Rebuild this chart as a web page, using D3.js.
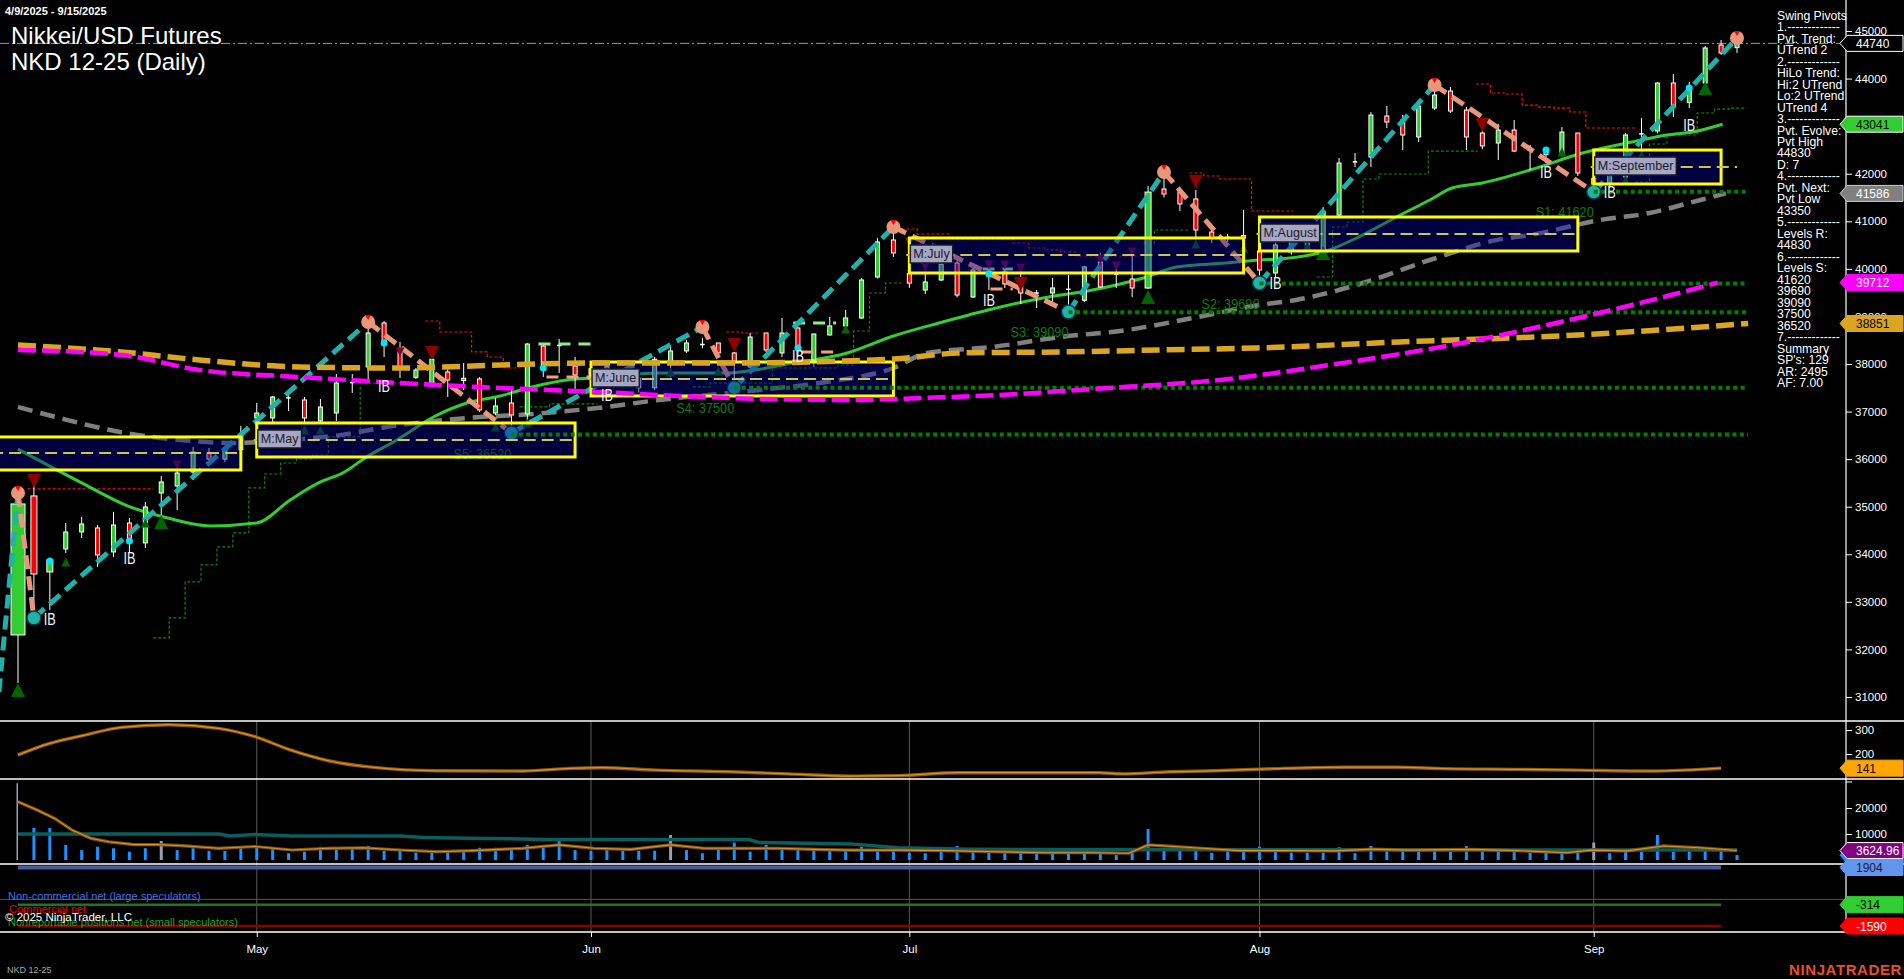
<!DOCTYPE html>
<html><head><meta charset="utf-8">
<script src="https://cdn.jsdelivr.net/npm/d3@7"></script>
<style>
html,body{margin:0;padding:0;background:#000;overflow:hidden}
svg{display:block}
text{font-family:Arial,"Liberation Sans",sans-serif}
</style></head><body>
<svg id="c" width="1904" height="979"></svg>
<script>
// ---------------- DATA ----------------
const dates = [
"2025-04-09","2025-04-10","2025-04-11","2025-04-14","2025-04-15","2025-04-16","2025-04-17","2025-04-21","2025-04-22","2025-04-23","2025-04-24","2025-04-25","2025-04-28","2025-04-29","2025-04-30",
"2025-05-01","2025-05-02","2025-05-05","2025-05-06","2025-05-07","2025-05-08","2025-05-09","2025-05-12","2025-05-13","2025-05-14","2025-05-15","2025-05-16","2025-05-19","2025-05-20","2025-05-21","2025-05-22","2025-05-23","2025-05-27","2025-05-28","2025-05-29","2025-05-30",
"2025-06-02","2025-06-03","2025-06-04","2025-06-05","2025-06-06","2025-06-09","2025-06-10","2025-06-11","2025-06-12","2025-06-13","2025-06-16","2025-06-17","2025-06-18","2025-06-20","2025-06-23","2025-06-24","2025-06-25","2025-06-26","2025-06-27","2025-06-30",
"2025-07-01","2025-07-02","2025-07-03","2025-07-07","2025-07-08","2025-07-09","2025-07-10","2025-07-11","2025-07-14","2025-07-15","2025-07-16","2025-07-17","2025-07-18","2025-07-21","2025-07-22","2025-07-23","2025-07-24","2025-07-25","2025-07-28","2025-07-29","2025-07-30","2025-07-31",
"2025-08-01","2025-08-04","2025-08-05","2025-08-06","2025-08-07","2025-08-08","2025-08-11","2025-08-12","2025-08-13","2025-08-14","2025-08-15","2025-08-18","2025-08-19","2025-08-20","2025-08-21","2025-08-22","2025-08-25","2025-08-26","2025-08-27","2025-08-28","2025-08-29",
"2025-09-02","2025-09-03","2025-09-04","2025-09-05","2025-09-08","2025-09-09","2025-09-10","2025-09-11","2025-09-12","2025-09-15"];

const open  = [32304,35226,33628,34112,34469,34553,34049,34658,34238,35288,35436,35730,36130,36000,36200,36865,36865,37300,37244,36802,36970,37600,37937,38862,38252,37720,37580,37832,37650,37685,36970,37180,36950,38379,38400,37958,37700,37800,37850,37700,37500,38042,38274,38420,38442,38232,37937,38652,38232,38757,38084,38610,38800,38967,39829,40607,39900,39555,39766,40123,39408,39950,39934,39724,39500,39492,39560,39340,40144,39900,39787,39597,41679,41615,41469,40775,40670,40700,40376,39913,40400,40500,40400,41132,42240,42352,43213,43129,42772,43381,43739,43339,42856,42646,42919,42480,42450,42435,42856,41900,41800,41930,42830,42898,43907,43500,43907,44706,44650];
const high  = [35290,35457,33900,34658,34784,34616,34889,34763,35100,35646,35793,36255,36234,36250,36700,37180,37330,37454,37307,37265,37790,37790,38883,38900,38463,37916,38110,37916,38020,37727,37285,37454,38440,38400,38526,38147,38000,38050,37900,37850,38150,38358,38505,38550,38442,38253,38652,38652,38967,38778,38631,38988,39135,39808,40649,40850,40100,39935,40160,40165,40081,40018,40123,40081,39555,39808,39871,40060,40334,40123,40334,41742,42036,41678,41658,40817,40733,41237,40500,40560,40700,40800,41300,42330,42435,43297,43423,43234,43444,43865,43823,43402,42919,43045,43129,42604,42540,42982,42856,42050,42200,42856,43171,43928,44096,43928,44685,44811,44830];
const low   = [31295,32900,32830,34028,34343,33733,33943,34028,34133,34826,34931,35562,35877,35940,36100,36781,36781,37012,36781,36760,36802,37391,37664,38147,37706,37685,37517,37307,37454,36991,36928,36550,36780,37727,37811,37454,37450,37600,37500,37400,37450,37727,38232,38330,38211,37540,37916,38253,38147,38147,37937,38600,38757,38950,39800,40250,39600,39470,39740,39400,39387,39555,39597,39261,39177,39282,39090,39300,39597,39597,39408,39580,41500,41216,40670,40544,40565,40565,39690,39829,40300,40400,40350,41090,42141,42141,42961,42498,42667,43339,43276,42498,42519,42288,42456,42078,42225,42435,41952,41620,41700,41880,42435,42850,43192,43381,43880,44500,44540];
const close = [35058,33586,33880,34469,34637,33985,34616,34301,34994,35520,35709,36150,36000,36200,36500,36970,37307,37280,36865,37096,37601,37620,38652,38400,37937,37874,38100,37664,37700,37034,37118,36928,38420,37980,38380,37769,37900,37950,37600,37500,38100,38274,38442,38400,38232,38042,38568,38295,38652,38358,38631,38800,38967,39766,40565,40334,39700,39724,40100,39450,39976,39900,39682,39492,39480,39598,39580,40040,39619,39880,39597,41615,41574,41364,40817,40649,40650,40650,39976,40502,40600,40700,41200,42225,42260,43234,43087,42814,43423,43655,43318,42772,42583,42919,42477,42500,42400,42877,42015,41750,42100,42814,42850,43907,43402,43750,44643,44538,44740];

const volume = [29500,12400,12300,5800,3800,5100,4500,3200,4500,7300,3800,4500,3500,3500,4500,5100,4500,2600,3200,5100,4700,4500,5400,3500,3500,2800,2800,3600,3600,4700,4700,4700,5800,5800,7400,3800,3500,3800,3600,3600,3600,9600,3800,2600,4500,6700,3200,5800,4500,4500,4500,3800,3500,5100,3500,4500,2800,2600,3800,5400,3500,2800,2600,3500,3800,3800,4500,3500,2600,1900,2800,11900,4500,4500,3800,2800,3200,3200,5100,3800,2800,2800,2800,4900,2600,5400,3800,3600,3800,3500,3200,5400,3800,3600,3500,2800,2800,2600,3200,6700,2600,3200,3200,9600,3200,4500,4500,4500,1900];
const grayVolumeBars = [0,9,41,99];

// moving averages: [bar index, value]
const maGreen = [[0,36210],[4,35500],[7,35000],[9.4,34763],[12.1,34595],[15,34658],[17.1,35142],[19,35520],[20.4,35709],[21.9,36045],[23.8,36403],[26.1,36886],[28.2,37180],[30.3,37328],[32.3,37517],[34.5,37664],[36.1,37706],[40.3,37811],[44.5,37811],[48.7,38021],[52.1,38232],[55,38589],[58.1,38883],[61.2,39156],[64.4,39388],[67.5,39555],[70.7,39808],[72.8,40039],[75.9,40123],[78,40186],[79.3,40207],[82.4,40397],[84.1,40649],[86.6,41090],[88.7,41448],[90.1,41700],[92,41805],[95,42078],[98.3,42435],[101.4,42667],[103.6,42814],[105.2,42877],[107.1,43041]];
const maGray = [[0,37097],[2.6,36865],[6.4,36571],[10.2,36403],[13.4,36340],[17.1,36403],[19.8,36487],[24,36718],[28.2,36865],[32.3,36949],[36.4,37075],[40.3,37244],[46.6,37454],[50.8,37622],[55,37916],[57.1,38232],[61.2,38358],[65.5,38568],[69.7,38715],[73.8,38967],[78,39240],[80.3,39346],[84.5,39703],[88.7,40186],[92.9,40607],[95,40712],[99.4,41027],[102.5,41174],[105.7,41448],[107.3,41586]];
const maOrange = [[0,38400],[6.5,38253],[11.4,38085],[17.7,37937],[24,37916],[30.3,37979],[36.4,38021],[44.5,38021],[55,38105],[59.2,38232],[65.5,38253],[71.7,38295],[77.8,38337],[86.8,38463],[98,38610],[108.7,38851]];
const maMagenta = [[0,38295],[6.5,38190],[11.4,37874],[17.7,37727],[24,37601],[30.3,37496],[36.4,37412],[40.3,37349],[46.6,37265],[52.9,37244],[56.7,37286],[61.7,37349],[67.5,37475],[75.5,37664],[82.8,38000],[90.4,38421],[98,38967],[104.1,39471],[106.8,39712]];

// swing pivots
const pivotIdx = [-1.2,0,1,22,31,43,45,55,66,72,78,89,99,108];
const pivotVal = [31100,35290,32661,38883,36550,38778,37500,40880,39093,42036,39703,43865,41616,44853];
const pivotType = ["L","H","L","H","L","H","L","H","L","H","L","H","L","H"];

// support levels
const sNames = ["S1","S2","S3","S4","S5"];
const sLevels = [41620,39690,39090,37500,36520];
const sStart = [99,78,66,45,31];

// trailing stop steps
const redStops = [
 [[0.6,35373],[8.5,35373]],
 [[25.6,38904],[26.5,38673],[28.5,38253],[29.5,38147],[30.5,37916],[31.5,37916]],
 [[44.5,38673],[45.5,38652],[46.5,38652]],
 [[55.5,40838],[56.5,40733],[58.5,40628],[62.5,40544],[63.5,40439],[64.5,40397],[65.5,40355],[66.5,40270],[70.5,40270]],
 [[73.6,42015],[74.5,41952],[75.5,41889],[77.5,41216],[80.1,41216]],
 [[91.6,43886],[92.5,43697],[93.5,43676],[94.5,43444],[95.5,43402],[96.5,43381],[97.5,43297],[98.5,42961],[101.7,42961]]
];
const greenStops = [
 [[8.5,32241],[9.5,32661],[10.5,33418],[11.5,33775],[12.5,34154],[13.5,34448],[14.5,35394],[15.5,35688],[16.5,35919],[17.5,36003],[18.5,36087],[19.5,36466],[21.5,37601],[24.8,37601]],
 [[31.5,37097],[33.4,37160],[36.4,37160]],
 [[42.4,37517],[43.5,37601],[47.4,37916],[51.5,37979],[52.5,38694],[53.5,39493],[54.5,39703],[55.5,39703]],
 [[70.7,40544],[71.4,40817],[73.5,40817]],
 [[81.6,39829],[82.6,40880],[83.5,40985],[84.5,41889],[85.5,41994],[88.6,42477],[91.7,42477]],
 [[101.6,41826],[102.5,42625],[103.6,42814],[105.5,43276],[106.6,43360],[107.5,43381],[108.6,43381]]
];

// monthly value boxes
const boxNames = ["", "M:May","M:June","M:July","M:August","M:September"];
const boxStart = [-1.5,15,36,56,78,99];
const boxEnd   = [14,35,55,77,98,107];
const boxHi  = [36466,36760,38042,40649,41090,42498];
const boxLo  = [35772,36045,37328,39913,40376,41784];
const boxMid = [36130,36403,37685,40292,40733,42141];

// signal markers
const upBig = [[0,31148],[9,34679],[71,39408],[82,40334],[106,43802]];
const upSmall = [[3,33838],[8,34658],[18,36613],[19,36613],[30,36676],[32,36760],[41,37832],[44,37853],[52,38736],[74,40523],[77,40439],[81,40481],[97,42456],[101,41868],[102,42393]];
const downBig = [[1,35541],[26,38232],[45,38400],[63,39682],[74,41826],[92,43024]];
const downSmall = [[10,35877],[24,38253],[56,40565],[57,40039],[61,40081],[62,40081],[63,40018],[68,40207],[69,40060],[70,40355]];
const ibLabels = [[2,32640],[7,33922],[23,37538],[37,37349],[49,38168],[61,39346],[79,39703],[96,42036],[100,41616],[105,43024]];
const ibDots = [[2,33859],[7,34280],[23,38442],[33,37916],[37,37811],[49,38337],[61,39892],[96,42498],[105,43802]];
const ibRanges = [[32.7,36.4,38421,37727],[48.7,51.4,38862,38253],[60.6,62.5,39997,39577]];

// lower panels
const osc = [[0,196],[1.9,242],[4.2,279],[6.5,311],[9.5,322],[12.6,307],[14.9,272],[17.1,217],[19.5,172],[22.5,143],[26.3,130],[31.7,129],[34.7,140],[36.6,143],[40.1,133],[44.7,126],[48.4,117],[52.3,108],[55.3,110],[59.1,122],[63.7,122],[67.9,122],[69.4,117],[72.1,125],[75.1,130],[79,139],[83.5,145],[86.6,145],[89.6,139],[94.2,136],[98,133],[102.6,129],[105.7,136],[107,141]];
const volMA = [[0,22400],[1.2,19200],[2.3,16000],[3.4,11500],[4.6,8300],[5.7,7000],[7.3,5900],[8.8,5900],[10.3,5500],[12.6,4500],[14.9,5200],[17.2,3850],[19.5,4500],[21.7,4700],[24,3850],[26.3,3200],[28.6,3600],[31.7,4500],[34,5800],[36.2,4500],[38.5,4100],[41,5800],[43.1,4500],[45.4,4500],[47.7,4500],[50,4100],[52.3,3800],[55.3,3800],[58.4,3600],[61.4,3200],[64.5,2800],[67.5,2800],[69.8,2600],[71,5800],[72.1,5400],[74.4,4500],[76.7,3600],[79.7,3600],[82.8,3500],[85.1,4200],[87.3,3800],[91.2,4100],[94.2,3600],[97.3,2800],[98.8,3800],[101.1,3500],[103.4,5400],[105.7,4700],[108,3625]];
const volAvg = [[0,10000],[12.6,10000],[13.3,9200],[14.9,9800],[17.2,9200],[24,9200],[25.5,8700],[29.3,8300],[33,7900],[45.9,7900],[46.6,6700],[52.3,6200],[55.3,4700],[59.9,4100],[98,3800],[108,3800]];
const cotNames = ["Non-commercial net (large speculators)","Commercial net","Nonreportable positions net (small speculators)"];
const cotValues = [1904,-1590,-314];

const priceTicks = d3.range(31000,45001,1000);
const monthTicks = [["2025-05-01","May"],["2025-06-02","Jun"],["2025-07-01","Jul"],["2025-08-01","Aug"],["2025-09-02","Sep"]];
const pivotText = ["Swing Pivots","1.-------------","Pvt. Trend:","UTrend 2","2.-------------","HiLo Trend:","Hi:2 UTrend","Lo:2 UTrend","UTrend 4","3.-------------","Pvt. Evolve:","Pvt High","44830","D: 7","4.-------------","Pvt. Next:","Pvt Low","43350","5.-------------","Levels R:","44830","6.-------------","Levels S:","41620","39690","39090","37500","36520","7.-------------","Summary","SP's: 129","AR: 2495","AF: 7.00"];

// ---------------- DRAW ----------------
const svg = d3.select("#c");
const AX = 1846;
svg.append("rect").attr("width",1904).attr("height",979).attr("fill","#000");

const x = d3.scalePoint().domain(dates).range([18,1737]);
const x0 = x(dates[0]), step = x.step();
const xi = i => x0 + i*step;
const yP = d3.scaleLinear().domain([30495,45652]).range([721,0]);
const yO = d3.scaleLinear().domain([100,300]).range([778,730]);
const yV = d3.scaleLinear().domain([0,20000]).range([860,808]);
const yC = d3.scaleLinear().domain([-1590,1904]).range([926,867.5]);

const defs = svg.append("defs");
defs.append("clipPath").attr("id","mainclip").append("rect").attr("x",0).attr("y",0).attr("width",AX).attr("height",721);
defs.append("clipPath").attr("id","lowclip").append("rect").attr("x",0).attr("y",721).attr("width",AX).attr("height",211);

const lowG = svg.append("g").attr("clip-path","url(#lowclip)");
monthTicks.forEach(([d])=>{
  lowG.append("line").attr("x1",x(d)).attr("x2",x(d)).attr("y1",721).attr("y2",932).attr("stroke","#5a5a5a").attr("stroke-width",1);
});

const g = svg.append("g").attr("clip-path","url(#mainclip)");

g.append("line").attr("x1",0).attr("x2",AX).attr("y1",yP(44740)).attr("y2",yP(44740))
 .attr("stroke","#9a9a9a").attr("stroke-width",1).attr("stroke-dasharray","9,3,2,3");

const lineIdx = d3.line().x(d=>xi(d[0])).y(d=>yP(d[1]));
const lineSmooth = d3.line().x(d=>xi(d[0])).y(d=>yP(d[1])).curve(d3.curveMonotoneX);
const stepLine = d3.line().x(d=>xi(d[0])).y(d=>yP(d[1])).curve(d3.curveStepAfter);

greenStops.forEach(s=>g.append("path").attr("d",stepLine(s)).attr("fill","none").attr("stroke","#0a8a0a").attr("stroke-width",1.2).attr("stroke-dasharray","3,2"));
redStops.forEach(s=>g.append("path").attr("d",stepLine(s)).attr("fill","none").attr("stroke","#ee1111").attr("stroke-width",1.2).attr("stroke-dasharray","3,2"));

g.append("path").attr("d",lineSmooth(maGray)).attr("fill","none").attr("stroke","#808080").attr("stroke-width",4.5).attr("stroke-dasharray","15,8");
g.append("path").attr("d",lineSmooth(maGreen)).attr("fill","none").attr("stroke","#32cd32").attr("stroke-width",3);

const wideBars = {0:15,1:7,2:7,71:7};
dates.forEach((d,i)=>{
  const cx = x(d);
  g.append("line").attr("x1",cx).attr("x2",cx).attr("y1",yP(high[i])).attr("y2",yP(low[i])).attr("stroke","#fff").attr("stroke-width",1);
  const w = wideBars[i] || 5;
  const yt = yP(Math.max(open[i],close[i])), yb = yP(Math.min(open[i],close[i]));
  const h = Math.max(1,yb-yt);
  const col = close[i]>open[i]+30 ? "#32cd32" : (close[i]<open[i]-30 ? "#ff0000" : "#ffffff");
  g.append("rect").attr("x",cx-w/2+0.5).attr("y",yt).attr("width",w-1).attr("height",h)
    .attr("fill",col).attr("stroke","#fff").attr("stroke-width",h>2?1:0.5);
});

ibRanges.forEach(r=>{
  g.append("line").attr("x1",xi(r[0])).attr("x2",xi(r[1])).attr("y1",yP(r[2])).attr("y2",yP(r[2])).attr("stroke","#90ee90").attr("stroke-width",3).attr("stroke-dasharray","12,8");
  g.append("line").attr("x1",xi(r[0])+8).attr("x2",xi(r[1])).attr("y1",yP(r[3])).attr("y2",yP(r[3])).attr("stroke","#f4a080").attr("stroke-width",3).attr("stroke-dasharray","12,8");
});

for(let k=0;k<pivotIdx.length-1;k++){
  const a=[pivotIdx[k],pivotVal[k]], b=[pivotIdx[k+1],pivotVal[k+1]];
  const up = pivotType[k]==="L";
  g.append("path").attr("d",lineIdx([a,b])).attr("fill","none")
   .attr("stroke", up ? "#20b2aa" : "#e9967a").attr("stroke-width",5).attr("stroke-dasharray","14,7");
}
sLevels.forEach((v,k)=>{
  g.append("text").attr("x",xi(sStart[k])).attr("y",yP(v)+25).attr("text-anchor","end")
   .attr("fill","#0d7a0d").attr("font-size",15).attr("textLength",58).attr("lengthAdjust","spacingAndGlyphs")
   .text(`${sNames[k]}: ${v}`);
});
const tri = (i,v,s,up,col)=>{
  const cx=xi(i), cy=yP(v);
  const p = up ? [[cx,cy-s/2],[cx+s/2,cy+s/2],[cx-s/2,cy+s/2]] : [[cx-s/2,cy-s/2],[cx+s/2,cy-s/2],[cx,cy+s/2]];
  g.append("path").attr("d","M"+p.join("L")+"Z").attr("fill",col);
};
upBig.forEach(d=>tri(d[0],d[1],14,true,"#006400"));
upSmall.forEach(d=>tri(d[0],d[1],9,true,"#006400"));
downBig.forEach(d=>tri(d[0],d[1],14,false,"#8b0000"));
downSmall.forEach(d=>tri(d[0],d[1],9,false,"#7a0a2a"));

pivotIdx.forEach((i,k)=>{
  if(i<0) return;
  const cx=xi(i), cy=yP(pivotVal[k]);
  if(pivotType[k]==="H"){
    g.append("circle").attr("cx",cx).attr("cy",cy).attr("r",7).attr("fill","#e9967a");
    g.append("path").attr("d",`M${cx-3},${cy-7}L${cx+3},${cy-7}L${cx},${cy-2}Z`).attr("fill","#ff0000");
  } else {
    g.append("circle").attr("cx",cx).attr("cy",cy).attr("r",7).attr("fill","#20b2aa").attr("stroke","#0b3b3b").attr("stroke-width",1.5);
  }
});

boxStart.forEach((s,k)=>{
  const xa=xi(s), xb=xi(boxEnd[k]);
  g.append("rect").attr("x",xa).attr("y",yP(boxHi[k])).attr("width",xb-xa).attr("height",yP(boxLo[k])-yP(boxHi[k]))
   .attr("fill","rgba(0,0,160,0.4)").attr("stroke","#ffff00").attr("stroke-width",3);
  const xe = k===boxStart.length-1 ? xi(108) : xb;
  g.append("line").attr("x1",xa-3).attr("x2",xe).attr("y1",yP(boxMid[k])).attr("y2",yP(boxMid[k]))
   .attr("stroke","#c8c84a").attr("stroke-width",2).attr("stroke-dasharray","12,6");
});

sLevels.forEach((v,k)=>{
  g.append("line").attr("x1",xi(sStart[k])).attr("x2",xi(108.7)).attr("y1",yP(v)).attr("y2",yP(v))
   .attr("stroke","#008000").attr("stroke-width",4).attr("stroke-dasharray","4,3.4");
});

g.append("path").attr("d",lineSmooth(maOrange)).attr("fill","none").attr("stroke","#daa520").attr("stroke-width",5.5).attr("stroke-dasharray","18,7");
g.append("path").attr("d",lineSmooth(maMagenta)).attr("fill","none").attr("stroke","#ff00ff").attr("stroke-width",4.5).attr("stroke-dasharray","18,6");

ibDots.forEach(d=>g.append("circle").attr("cx",xi(d[0])).attr("cy",yP(d[1])).attr("r",3.5).attr("fill","#00e5ff"));
ibLabels.forEach(d=>g.append("text").attr("x",xi(d[0])).attr("y",yP(d[1])+6).attr("text-anchor","middle")
  .attr("fill","#f4f4ff").attr("font-size",16).attr("textLength",12).attr("lengthAdjust","spacingAndGlyphs").text("IB"));

boxStart.forEach((s,k)=>{
  if(!boxNames[k]) return;
  const lx = xi(s)+1, ly = yP(boxHi[k])+7;
  const t = g.append("text").attr("x",lx+3).attr("y",ly+13).attr("font-family","'Liberation Mono','DejaVu Sans Mono',monospace")
   .attr("font-size",12.6).attr("fill","#1c1c1c").text(boxNames[k]);
  const tw = t.node().getComputedTextLength();
  g.insert("rect", function(){return t.node();}).attr("x",lx).attr("y",ly).attr("width",tw+6).attr("height",18)
   .attr("fill","#a6a6c6").attr("stroke","#1a1a1a").attr("stroke-width",1.5);
});

// ---------- lower panels ----------
const lo = d3.line().x(d=>xi(d[0])).y(d=>yO(d[1])).curve(d3.curveMonotoneX);
lowG.append("path").attr("d",lo(osc)).attr("fill","none").attr("stroke","#8a5a0c").attr("stroke-width",3.4);
lowG.append("path").attr("d",lo(osc)).attr("fill","none").attr("stroke","#e09020").attr("stroke-width",1.2);

volume.forEach((v,i)=>{
  lowG.append("rect").attr("x",x(dates[i])-1.5).attr("y",yV(v)).attr("width",i===0?1.5:3).attr("height",yV(0)-yV(v))
   .attr("fill", grayVolumeBars.includes(i) ? "#9aa0b0" : "#1e90ff");
});
const lv = d3.line().x(d=>xi(d[0])).y(d=>yV(d[1]));
lowG.append("path").attr("d",lv(volAvg)).attr("fill","none").attr("stroke","#0a5e5e").attr("stroke-width",3.5);
lowG.append("path").attr("d",lv(volMA)).attr("fill","none").attr("stroke","#7a5410").attr("stroke-width",3.2);
lowG.append("path").attr("d",lv(volMA)).attr("fill","none").attr("stroke","#e09020").attr("stroke-width",1.1);

lowG.append("line").attr("x1",0).attr("x2",AX).attr("y1",yC(0)).attr("y2",yC(0)).attr("stroke","#555").attr("stroke-width",1);
const cotColors = ["#4a5c9c","#8b0000","#1a7a1a"];
cotValues.forEach((v,k)=>{
  lowG.append("line").attr("x1",xi(0)).attr("x2",xi(107)).attr("y1",yC(v)).attr("y2",yC(v))
   .attr("stroke",cotColors[k]).attr("stroke-width",k===0?4:2.5);
});

// ---------- frame ----------
[721,779,864,932].forEach(yy=>svg.append("line").attr("x1",0).attr("x2",1904).attr("y1",yy).attr("y2",yy).attr("stroke","#fff").attr("stroke-width",1.5));
svg.append("line").attr("x1",AX).attr("x2",AX).attr("y1",0).attr("y2",932).attr("stroke","#fff").attr("stroke-width",1.2);

const styleAxis = sel => { sel.select(".domain").remove(); sel.selectAll("line").attr("stroke","#fff");
  sel.selectAll("text").attr("fill","#fff").attr("font-size",11.5).attr("font-family","Arial,'Liberation Sans',sans-serif"); };
svg.append("g").attr("transform",`translate(${AX},0)`).call(d3.axisRight(yP).tickValues(priceTicks).tickSize(6).tickPadding(3).tickFormat(d3.format("d"))).call(styleAxis);
svg.append("g").attr("transform",`translate(${AX},0)`).call(d3.axisRight(yO).tickValues([200,300]).tickSize(6).tickPadding(3)).call(styleAxis);
svg.append("g").attr("transform",`translate(${AX},0)`).call(d3.axisRight(yV).tickValues([10000,20000]).tickSize(6).tickPadding(3).tickFormat(d3.format("d"))).call(styleAxis);
svg.append("line").attr("x1",AX).attr("x2",AX+6).attr("y1",yV(30000)).attr("y2",yV(30000)).attr("stroke","#fff");
const xa = svg.append("g").attr("transform","translate(0,932)").call(d3.axisBottom(x).tickValues(monthTicks.map(m=>m[0])).tickSize(5).tickPadding(8).tickFormat((d,i)=>monthTicks[i][1]));
xa.select(".domain").remove(); xa.selectAll("line").attr("stroke","#fff");
xa.selectAll("text").attr("fill","#fff").attr("font-size",11.5).attr("font-family","Arial,'Liberation Sans',sans-serif");

const tag = (yy,label,fill,tc,stroke)=>{
  svg.append("path").attr("d",`M${AX-6},${yy}L${AX+1},${yy-8}L1903,${yy-8}L1903,${yy+8}L${AX+1},${yy+8}Z`)
   .attr("fill",fill).attr("stroke",stroke||fill).attr("stroke-width",1);
  svg.append("text").attr("x",AX+10).attr("y",yy+4.5).attr("fill",tc).attr("font-size",12).text(label);
};
tag(yP(44740),"44740","#000","#fff","#fff");
tag(yP(43041),"43041","#32cd32","#000","#fff");
tag(yP(41586),"41586","#808080","#fff","#ccc");
tag(yP(39712),"39712","#ff00ff","#fff","#ff00ff");
tag(yP(38851),"38851","#daa520","#000","#daa520");
tag(yO(141),"141","#ffa500","#000","#ffa500");
tag(yV(3800)+5,"1642","#1e90ff","#fff","#1e90ff");
tag(yV(3625),"3624.96","#800080","#fff","#fff");
tag(yC(1904),"1904","#6495ed","#1a1a40","#6495ed");
tag(yC(-314),"-314","#32cd32","#000","#32cd32");
tag(yC(-1590),"-1590","#ff0000","#fff","#ff0000");

pivotText.forEach((t,k)=>svg.append("text").attr("x",1777).attr("y",15.7+k*11.48+4).attr("fill","#fff").attr("font-size",12.2).text(t));

svg.append("text").attr("x",5).attr("y",15).attr("fill","#fff").attr("font-size",11).attr("font-weight","bold").text("4/9/2025 - 9/15/2025");
svg.append("text").attr("x",11).attr("y",44).attr("fill","#fff").attr("font-size",24).text("Nikkei/USD Futures");
svg.append("text").attr("x",11).attr("y",70).attr("fill","#fff").attr("font-size",24).text("NKD 12-25 (Daily)");

svg.append("text").attr("x",8).attr("y",900).attr("fill","#4a6fe0").attr("font-size",11).text(cotNames[0]);
svg.append("text").attr("x",9).attr("y",913).attr("fill","#ee0000").attr("font-size",11).text(cotNames[1]);
svg.append("text").attr("x",8).attr("y",926).attr("fill","#22a022").attr("font-size",11).text(cotNames[2]);
svg.append("text").attr("x",5).attr("y",921).attr("fill","#fff").attr("font-size",11.5).text("© 2025 NinjaTrader, LLC");
svg.append("text").attr("x",7).attr("y",973).attr("fill","#aaa").attr("font-size",9).text("NKD 12-25");
svg.append("text").attr("x",1902).attr("y",975).attr("text-anchor","end").attr("fill","#e8502a").attr("font-size",15).attr("font-weight","bold").attr("letter-spacing",0.6).text("NINJATRADER");
</script>
</body></html>
